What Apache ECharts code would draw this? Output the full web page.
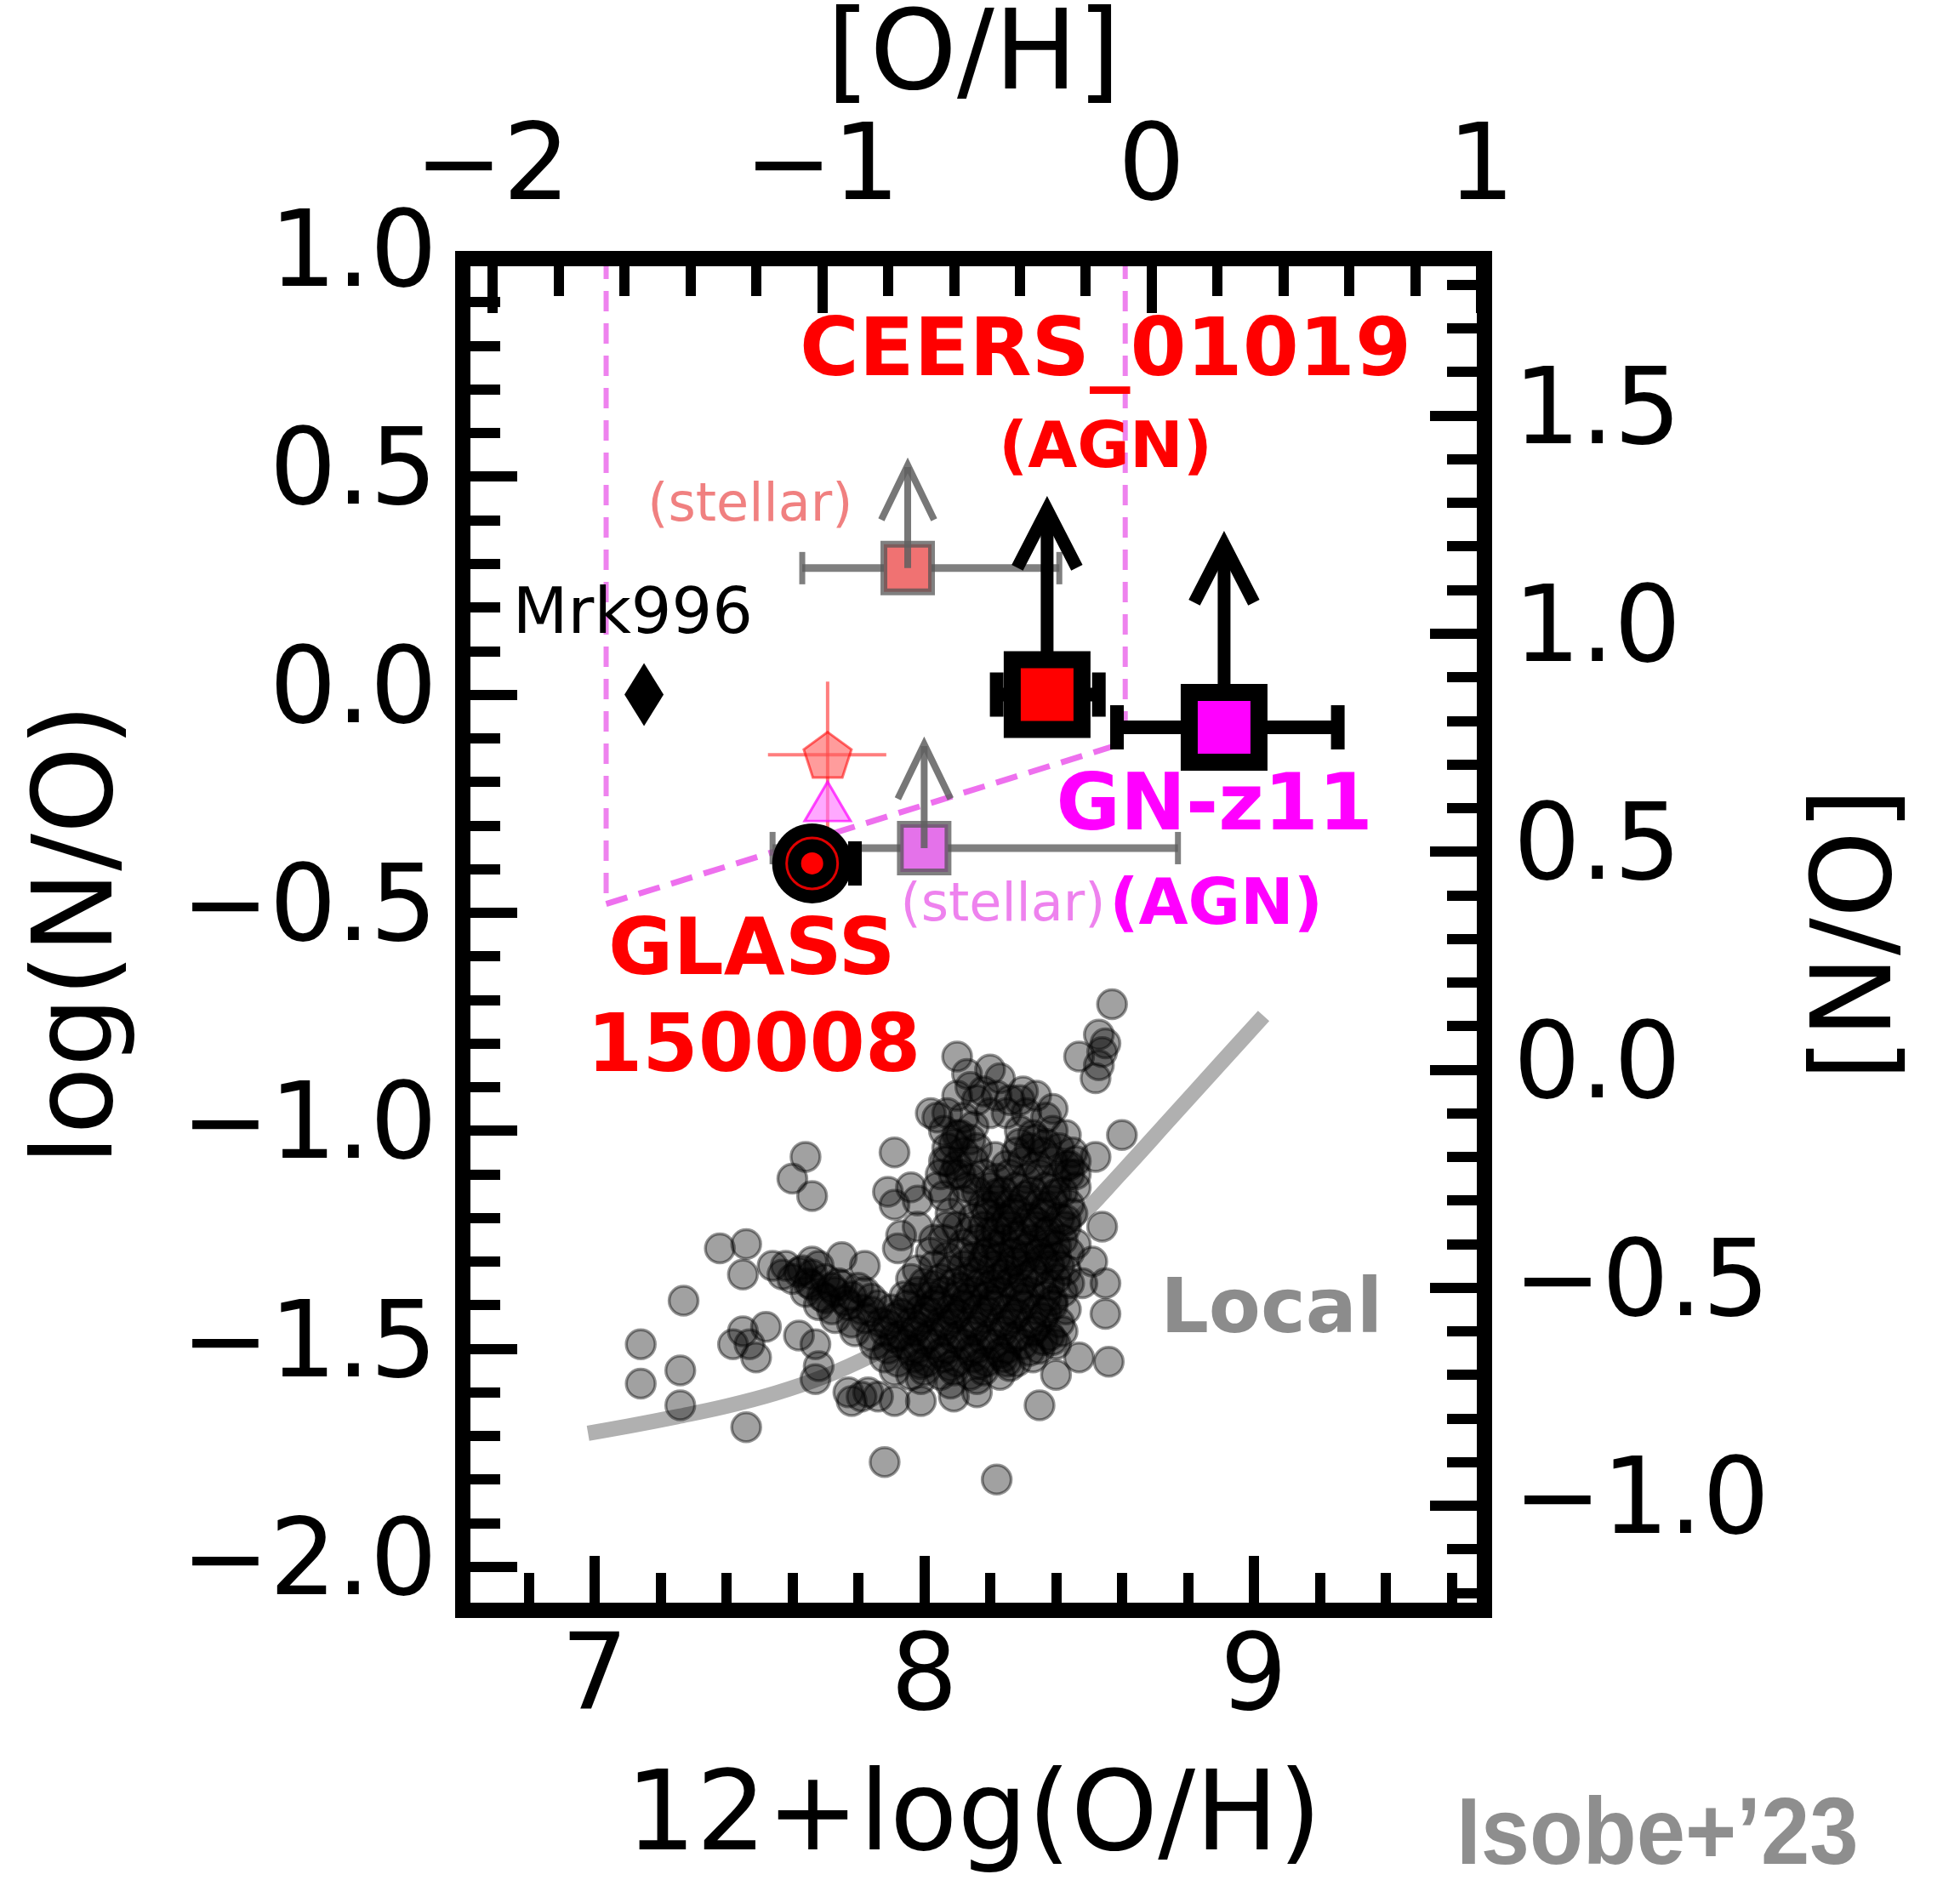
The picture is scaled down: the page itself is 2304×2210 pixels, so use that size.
<!DOCTYPE html>
<html>
<head>
<meta charset="utf-8">
<script src="https://cdn.jsdelivr.net/npm/echarts/dist/echarts.min.js"></script>
<style>
html,body{margin:0;padding:0;background:#ffffff;}
#chart{width:2304px;height:2210px;}
</style>
</head>
<body>
<div id="chart"></div>
<script>
// ---------------- data ----------------
const solarOH = 8.69;      // [O/H] = 12+log(O/H) - 8.69
const solarNO = -0.86;     // [N/O] = log(N/O) + 0.86
const xRange = [6.6, 9.7];
const yRange = [-2.1, 1.0];

const xMajorTicks = [7, 8, 9];
const xMinorTicks = [6.8, 7.2, 7.4, 7.6, 7.8, 8.2, 8.4, 8.6, 8.8, 9.2, 9.4, 9.6];
const yMajorTicks = [-2.0, -1.5, -1.0, -0.5, 0.0, 0.5, 1.0];
const yMinorTicks = [-1.9, -1.8, -1.7, -1.6, -1.4, -1.3, -1.2, -1.1, -0.9, -0.8, -0.7, -0.6,
                     -0.4, -0.3, -0.2, -0.1, 0.1, 0.2, 0.3, 0.4, 0.6, 0.7, 0.8, 0.9];
const ohMajorTicks = [-2, -1, 0, 1];
const ohMinorTicks = [-1.8, -1.6, -1.4, -1.2, -0.8, -0.6, -0.4, -0.2, 0.2, 0.4, 0.6, 0.8];
const noMajorTicks = [-1.0, -0.5, 0.0, 0.5, 1.0, 1.5];
const noMinorTicks = [-1.2, -1.1, -0.9, -0.8, -0.7, -0.6, -0.4, -0.3, -0.2, -0.1, 0.1, 0.2, 0.3, 0.4,
                      0.6, 0.7, 0.8, 0.9, 1.1, 1.2, 1.3, 1.4, 1.6, 1.7, 1.8];

// local galaxies (12+log(O/H), log(N/O))
const localSample = [
  [8.57,-0.71],[8.53,-0.78],[8.55,-0.80],[8.47,-0.83],[8.54,-0.82],[8.53,-0.85],[8.52,-0.88],
  [8.10,-0.83],[8.14,-0.90],[8.23,-0.88],[8.30,-0.91],[8.18,-0.91],[8.26,-0.93],[8.39,-0.95],
  [8.04,-0.97],[8.10,-1.01],[8.09,-1.03],[8.14,-1.02],[8.20,-0.96],[8.25,-0.96],[8.29,-1.03],[8.34,-1.02],[8.37,-1.03],
  [7.91,-1.05],[8.60,-1.01],[8.52,-1.06],[8.07,-1.07],[8.11,-1.10],[8.05,-1.10],[8.13,-1.13],
  [7.89,-1.14],[7.96,-1.13],[7.98,-1.16],[7.91,-1.17],[8.06,-1.15],[8.54,-1.22],
  [7.93,-1.24],[7.98,-1.22],[8.03,-1.25],[8.07,-1.22],[8.46,-1.10],[8.44,-1.08],
  [7.64,-1.06],[7.60,-1.11],[7.66,-1.15],
  [7.38,-1.27],[7.46,-1.26],[7.45,-1.33],[7.54,-1.31],[7.57,-1.33],[7.66,-1.30],[7.75,-1.29],[7.82,-1.31],
  [7.27,-1.39],[7.14,-1.49],[7.26,-1.55],[7.14,-1.58],[7.26,-1.63],
  [7.45,-1.46],[7.52,-1.45],[7.42,-1.49],[7.49,-1.52],[7.47,-1.49],[7.62,-1.47],[7.67,-1.49],[7.67,-1.57],
  [7.46,-1.68],[7.78,-1.62],[7.83,-1.60],[7.81,-1.61],[7.88,-1.76],[8.22,-1.80],
  [8.51,-1.30],[8.55,-1.35],[8.55,-1.42],[8.47,-1.52],[8.56,-1.53],[8.40,-1.56],[8.25,-1.53],[8.35,-1.63],
  [8.16,-1.60],[8.09,-1.61],[7.99,-1.62],[7.91,-1.62],[7.86,-1.61],[8.39,-1.48],[8.48,-1.35],
  [8.02,-0.96],[7.92,-1.27],[8.41,-1.31],[7.77,-1.60],[7.68,-1.54],[8.215,-1.06],
  // dense core
  [8.13,-0.87],[8.20,-0.86],
  [8.10,-0.92],[8.16,-0.93],[8.22,-0.92],[8.29,-0.93],[8.34,-0.92],
  [8.07,-0.96],[8.12,-0.97],[8.31,-0.96],[8.37,-0.97],
  [8.06,-1.00],[8.11,-1.01],[8.15,-0.99],[8.29,-1.00],[8.33,-1.01],[8.39,-1.00],[8.43,-1.01],
  [8.07,-1.04],[8.12,-1.05],[8.16,-1.04],[8.28,-1.05],[8.32,-1.04],[8.36,-1.05],[8.41,-1.04],[8.45,-1.05],
  [8.06,-1.07],[8.10,-1.08],[8.15,-1.07],[8.25,-1.08],[8.30,-1.07],[8.34,-1.08],[8.39,-1.07],[8.43,-1.08],[8.46,-1.07],
  [8.09,-1.10],[8.14,-1.11],[8.18,-1.10],[8.22,-1.11],[8.26,-1.10],[8.31,-1.11],[8.35,-1.10],[8.40,-1.11],[8.44,-1.10],
  [8.04,-1.13],[8.16,-1.14],[8.20,-1.13],[8.24,-1.14],[8.28,-1.13],[8.33,-1.14],[8.37,-1.13],[8.42,-1.14],[8.46,-1.13],
  [8.12,-1.16],[8.18,-1.17],[8.22,-1.16],[8.26,-1.17],[8.30,-1.16],[8.35,-1.17],[8.39,-1.16],[8.44,-1.17],
  [8.08,-1.19],[8.15,-1.20],[8.19,-1.19],[8.23,-1.20],[8.27,-1.19],[8.32,-1.20],[8.36,-1.19],[8.41,-1.20],[8.45,-1.19],
  [8.10,-1.22],[8.14,-1.23],[8.18,-1.22],[8.22,-1.23],[8.26,-1.22],[8.30,-1.23],[8.34,-1.22],[8.38,-1.23],[8.43,-1.22],
  [8.06,-1.25],[8.12,-1.26],[8.16,-1.25],[8.20,-1.26],[8.24,-1.25],[8.28,-1.26],[8.33,-1.25],[8.37,-1.26],[8.42,-1.25],[8.46,-1.26],
  [8.02,-1.28],[8.07,-1.29],[8.11,-1.28],[8.15,-1.29],[8.19,-1.28],[8.23,-1.29],[8.27,-1.28],[8.31,-1.29],[8.35,-1.28],[8.40,-1.29],[8.44,-1.28],
  [7.58,-1.31],[7.63,-1.32],[7.68,-1.31],[7.98,-1.32],[8.03,-1.31],[8.08,-1.32],[8.12,-1.31],[8.17,-1.32],[8.21,-1.31],[8.25,-1.32],[8.29,-1.31],[8.34,-1.32],[8.38,-1.31],[8.43,-1.32],
  [7.60,-1.34],[7.65,-1.35],[7.70,-1.34],[7.74,-1.35],[7.96,-1.34],[8.00,-1.35],[8.05,-1.34],[8.09,-1.35],[8.13,-1.34],[8.17,-1.35],[8.22,-1.34],[8.26,-1.35],[8.30,-1.34],[8.35,-1.35],[8.40,-1.34],[8.44,-1.35],
  [7.64,-1.37],[7.69,-1.38],[7.73,-1.37],[7.78,-1.38],[7.82,-1.37],[7.94,-1.38],[7.98,-1.37],[8.02,-1.38],[8.06,-1.37],[8.10,-1.38],[8.15,-1.37],[8.19,-1.38],[8.23,-1.37],[8.28,-1.38],[8.32,-1.37],[8.37,-1.38],[8.42,-1.37],
  [7.68,-1.40],[7.72,-1.41],[7.77,-1.40],[7.81,-1.41],[7.86,-1.40],[7.90,-1.41],[7.95,-1.40],[7.99,-1.41],[8.03,-1.40],[8.08,-1.41],[8.12,-1.40],[8.16,-1.41],[8.21,-1.40],[8.25,-1.41],[8.30,-1.40],[8.34,-1.41],[8.39,-1.40],[8.43,-1.41],
  [7.73,-1.43],[7.78,-1.44],[7.82,-1.43],[7.87,-1.44],[7.91,-1.43],[7.96,-1.44],[8.00,-1.43],[8.05,-1.44],[8.09,-1.43],[8.14,-1.44],[8.18,-1.43],[8.23,-1.44],[8.27,-1.43],[8.32,-1.44],[8.36,-1.43],[8.41,-1.44],
  [7.79,-1.46],[7.84,-1.47],[7.88,-1.46],[7.93,-1.47],[7.97,-1.46],[8.02,-1.47],[8.06,-1.46],[8.11,-1.47],[8.15,-1.46],[8.20,-1.47],[8.24,-1.46],[8.29,-1.47],[8.33,-1.46],[8.38,-1.47],[8.42,-1.46],
  [7.85,-1.49],[7.89,-1.50],[7.94,-1.49],[7.98,-1.50],[8.03,-1.49],[8.07,-1.50],[8.12,-1.49],[8.16,-1.50],[8.21,-1.49],[8.25,-1.50],[8.30,-1.49],[8.35,-1.50],[8.40,-1.49],
  [7.88,-1.52],[7.92,-1.53],[7.97,-1.52],[8.01,-1.53],[8.06,-1.52],[8.10,-1.53],[8.15,-1.52],[8.19,-1.53],[8.24,-1.52],[8.28,-1.53],[8.33,-1.52],
  [7.91,-1.55],[7.96,-1.56],[8.00,-1.55],[8.05,-1.56],[8.09,-1.55],[8.14,-1.56],[8.18,-1.55],[8.23,-1.56],
  [7.99,-1.57],[8.08,-1.58],[8.16,-1.57],
  // densest parts (extra overlap)
  [7.62,-1.325],[7.66,-1.33],[7.66,-1.355],[7.72,-1.36],[7.70,-1.385],[7.76,-1.39],[7.84,-1.385],
  [7.75,-1.355],[7.80,-1.36],[8.03,-1.355],[8.11,-1.36],[8.20,-1.355],[8.29,-1.36],[8.38,-1.355],
  [7.96,-1.385],[8.04,-1.39],[8.13,-1.385],[8.21,-1.39],[8.30,-1.385],[8.39,-1.39],
  [7.84,-1.415],[7.93,-1.42],[8.01,-1.415],[8.10,-1.42],[8.19,-1.415],[8.28,-1.42],[8.37,-1.415],
  [7.89,-1.445],[7.98,-1.45],[8.07,-1.445],[8.16,-1.45],[8.25,-1.445],[8.34,-1.45],
  [7.91,-1.475],[8.00,-1.48],[8.09,-1.475],[8.18,-1.48],[8.27,-1.475],[8.36,-1.48],
  [7.96,-1.505],[8.05,-1.51],[8.14,-1.505],[8.23,-1.51],[8.32,-1.505],
  [7.99,-1.535],[8.08,-1.54],[8.17,-1.535],[8.26,-1.54],
  [8.22,-1.145],[8.31,-1.15],[8.40,-1.145],[8.20,-1.175],[8.28,-1.18],[8.37,-1.175],
  [8.25,-1.205],[8.34,-1.21],[8.43,-1.205],[8.20,-1.235],[8.28,-1.24],[8.37,-1.235],
  [8.22,-1.265],[8.31,-1.27],[8.40,-1.265],[8.18,-1.295],[8.27,-1.30],[8.36,-1.295],
  [8.15,-1.325],[8.24,-1.33],[8.33,-1.325]
];

// local relation (thick gray curve)
const localCurve = [[6.98,-1.694],[7.10,-1.678],[7.25,-1.656],[7.40,-1.632],[7.55,-1.602],[7.70,-1.563],
  [7.85,-1.512],[8.00,-1.452],[8.15,-1.383],[8.30,-1.305],[8.45,-1.214],[8.60,-1.095],[8.75,-0.970],
  [8.90,-0.845],[9.03,-0.737]];

// magenta dashed region
const regionLeftEdge = [[7.035, 1.0], [7.035, -0.48]];
const regionDiagonal = [[7.035, -0.48], [8.61, -0.11]];
const regionRightEdge = [[8.61, 1.0], [8.61, -0.11]];

// objects: [x, y]
const mrk996Point = [7.15, 0.0];
const ceersStellarPoint = [7.95, 0.29];
const ceersStellarXErr = [7.63, 8.41];
const ceersStellarArrowTip = 0.54;
const gnStellarPoint = [8.00, -0.352];
const gnStellarXErr = [7.54, 8.77];
const gnStellarArrowTip = -0.10;
const ceersAgnPoint = [8.373, 0.0];
const ceersAgnXErr = [8.22, 8.53];
const ceersAgnArrowTip = 0.45;
const gnAgnPoint = [8.91, -0.075];
const gnAgnXErr = [8.585, 9.255];
const gnAgnArrowTip = 0.37;
const glassPoint = [7.66, -0.387];
const glassXErr = [7.58, 7.79];
const pentagonPoint = [7.707, -0.138];
const pentagonXErr = [7.526, 7.885];
const pentagonYErr = [-0.31, 0.03];
const trianglePoint = [7.707, -0.245];

// annotation texts: [x, y]
const labelCeers = [8.55, 0.78];
const labelCeersAgn = [8.55, 0.56];
const labelCeersStellar = [7.472, 0.431];
const labelMrk = [7.116, 0.179];
const labelGn = [8.881, -0.263];
const labelGnAgn = [8.886, -0.487];
const labelGnStellar = [8.239, -0.487];
const labelGlass = [7.477, -0.594];
const labelGlassId = [7.483, -0.815];
const labelLocal = [9.054, -1.417];

// ---------------- chart ----------------
const FONT = '"DejaVu Sans", Verdana, sans-serif';
const fmt1 = v => (v < -1e-9 ? '\u2212' : '') + Math.abs(v).toFixed(1);
const fmt0 = v => (v < -1e-9 ? '\u2212' : '') + Math.abs(Math.round(v));

function axisDef(o) {
  const major = o.major;
  return {
    type: 'value', position: o.position, min: o.min, max: o.max,
    splitLine: { show: false },
    axisLine: { show: !!major, onZero: false, lineStyle: { color: '#000', width: 18, cap: 'square' } },
    axisTick: { show: true, inside: true, length: major ? 64 : 44, customValues: o.ticks,
                lineStyle: { color: '#000', width: 12 } },
    axisLabel: major ? { show: true, customValues: o.ticks, margin: o.margin, fontSize: 124, fontFamily: FONT,
                         color: '#000', formatter: o.fmt, showMinLabel: true, showMaxLabel: true }
                     : { show: false },
    name: o.name || '', nameLocation: 'middle', nameGap: o.nameGap || 0, nameRotate: o.nameRotate,
    nameTextStyle: { fontSize: 130, fontFamily: FONT, color: '#000' },
    z: 10
  };
}

const xAxes = [
  axisDef({ position: 'bottom', min: xRange[0], max: xRange[1], major: true, ticks: xMajorTicks, margin: 22,
            fmt: fmt0, name: '12+log(O/H)', nameGap: 182 }),
  axisDef({ position: 'bottom', min: xRange[0], max: xRange[1], major: false, ticks: xMinorTicks }),
  axisDef({ position: 'top', min: xRange[0] - solarOH, max: xRange[1] - solarOH, major: true, ticks: ohMajorTicks,
            margin: 40, fmt: fmt0, name: '[O/H]', nameGap: 162 }),
  axisDef({ position: 'top', min: xRange[0] - solarOH, max: xRange[1] - solarOH, major: false, ticks: ohMinorTicks })
];
const yAxes = [
  axisDef({ position: 'left', min: yRange[0], max: yRange[1], major: true, ticks: yMajorTicks, margin: 30,
            fmt: fmt1, name: 'log(N/O)', nameGap: 382 }),
  axisDef({ position: 'left', min: yRange[0], max: yRange[1], major: false, ticks: yMinorTicks }),
  axisDef({ position: 'right', min: yRange[0] - solarNO, max: yRange[1] - solarNO, major: true, ticks: noMajorTicks,
            margin: 34, fmt: fmt1, name: '[N/O]', nameGap: 378, nameRotate: 90 }),
  axisDef({ position: 'right', min: yRange[0] - solarNO, max: yRange[1] - solarNO, major: false, ticks: noMinorTicks })
];

function errBarSeries(items, color, width, capH, capW, z) {
  return {
    type: 'custom', z: z, silent: true, xAxisIndex: 0, yAxisIndex: 0,
    encode: { x: 0, y: 1 },
    data: items,
    renderItem: (params, api) => {
      const y = api.value(1);
      const a = api.coord([api.value(2), y]);
      const b = api.coord([api.value(3), y]);
      const st = { stroke: color, lineWidth: width };
      const cs = { stroke: color, lineWidth: capW };
      return { type: 'group', children: [
        { type: 'line', shape: { x1: a[0], y1: a[1], x2: b[0], y2: b[1] }, style: st },
        { type: 'line', shape: { x1: a[0], y1: a[1] - capH / 2, x2: a[0], y2: a[1] + capH / 2 }, style: cs },
        { type: 'line', shape: { x1: b[0], y1: b[1] - capH / 2, x2: b[0], y2: b[1] + capH / 2 }, style: cs }
      ]};
    }
  };
}

function crossErrSeries(items, color, width, z) {
  return {
    type: 'custom', z: z, silent: true, xAxisIndex: 0, yAxisIndex: 0,
    encode: { x: 0, y: 1 },
    data: items,
    renderItem: (params, api) => {
      const x = api.value(0), y = api.value(1);
      const a = api.coord([api.value(2), y]), b = api.coord([api.value(3), y]);
      const c = api.coord([x, api.value(4)]), d = api.coord([x, api.value(5)]);
      const st = { stroke: color, lineWidth: width };
      return { type: 'group', children: [
        { type: 'line', shape: { x1: a[0], y1: a[1], x2: b[0], y2: b[1] }, style: st },
        { type: 'line', shape: { x1: c[0], y1: c[1], x2: d[0], y2: d[1] }, style: st }
      ]};
    }
  };
}

function arrowSeries(items, color, width, headHalf, headLen, z) {
  return {
    type: 'custom', z: z, silent: true, xAxisIndex: 0, yAxisIndex: 0,
    encode: { x: 0, y: 1 },
    data: items,
    renderItem: (params, api) => {
      const x = api.value(0);
      const base = api.coord([x, api.value(1)]);
      const tip = api.coord([x, api.value(2)]);
      const t = [tip[0], tip[1] + width * 0.9];
      const st = { stroke: color, lineWidth: width, fill: null, lineJoin: 'miter', miterLimit: 10 };
      return { type: 'group', children: [
        { type: 'line', shape: { x1: base[0], y1: base[1], x2: t[0], y2: t[1] + 2 }, style: { stroke: color, lineWidth: width } },
        { type: 'polyline', shape: { points: [[t[0] - headHalf, t[1] + headLen], [t[0], t[1]], [t[0] + headHalf, t[1] + headLen]] }, style: st }
      ]};
    }
  };
}

function textSeries(items, z) {
  return {
    type: 'scatter', z: z, silent: true, symbolSize: 1, xAxisIndex: 0, yAxisIndex: 0,
    itemStyle: { color: 'rgba(0,0,0,0)', opacity: 1 },
    data: items.map(it => ({
      value: it.pos,
      label: { show: true, position: 'inside', formatter: it.text, fontSize: it.size, fontWeight: it.weight,
               fontFamily: FONT, color: it.color, align: 'center', verticalAlign: 'middle', opacity: 1 }
    }))
  };
}

function markerSeries(points, symbol, size, style, z, extra) {
  return Object.assign({
    type: 'scatter', z: z, silent: true, data: points, symbol: symbol, symbolSize: size,
    itemStyle: Object.assign({ opacity: 1 }, style)
  }, extra || {});
}

const series = [
  { type: 'line', z: 1, silent: true, data: localCurve, symbol: 'none', smooth: 0.4,
    lineStyle: { color: '#b0b0b0', width: 18, cap: 'butt' } },
  markerSeries(localSample, 'circle', 34,
    { color: 'rgba(0,0,0,0.37)', borderColor: 'rgba(0,0,0,0.42)', borderWidth: 3.5 }, 2),
  { type: 'line', z: 3, silent: true, data: regionLeftEdge, symbol: 'none',
    lineStyle: { color: '#ee82ee', width: 6, type: [24, 14] } },
  { type: 'line', z: 3, silent: true, data: regionRightEdge, symbol: 'none',
    lineStyle: { color: '#ee82ee', width: 6, type: [24, 14] } },
  { type: 'line', z: 3, silent: true, data: regionDiagonal, symbol: 'none',
    lineStyle: { color: '#ee70ee', width: 7, type: [26, 14] } },
  errBarSeries([[...ceersStellarPoint, ...ceersStellarXErr], [...gnStellarPoint, ...gnStellarXErr]],
               'rgba(95,95,95,0.8)', 9, 38, 7, 4),
  crossErrSeries([[...pentagonPoint, ...pentagonXErr, ...pentagonYErr]], 'rgba(255,40,40,0.6)', 4, 4),
  markerSeries([trianglePoint], 'triangle', [54, 46],
    { color: 'rgba(255,110,255,0.6)', borderColor: 'rgba(255,0,255,0.7)', borderWidth: 3 }, 5),
  markerSeries([pentagonPoint], 'path://M0,-1 L0.951,-0.309 L0.588,0.809 L-0.588,0.809 L-0.951,-0.309 Z', 56,
    { color: 'rgba(255,90,90,0.6)', borderColor: 'rgba(255,0,0,0.55)', borderWidth: 3 }, 5, { symbolKeepAspect: true }),
  markerSeries([ceersStellarPoint], 'rect', 56,
    { color: '#f07272', borderColor: 'rgba(85,85,85,0.75)', borderWidth: 8 }, 5),
  markerSeries([gnStellarPoint], 'rect', 56,
    { color: '#e472ea', borderColor: 'rgba(85,85,85,0.75)', borderWidth: 8 }, 5),
  arrowSeries([[...ceersStellarPoint, ceersStellarArrowTip], [...gnStellarPoint, gnStellarArrowTip]],
              'rgba(95,95,95,0.85)', 8, 31, 64, 6),
  errBarSeries([[...gnAgnPoint, ...gnAgnXErr], [...ceersAgnPoint, ...ceersAgnXErr], [...glassPoint, ...glassXErr]],
               '#000', 16, 52, 16, 7),
  arrowSeries([[...ceersAgnPoint, ceersAgnArrowTip], [...gnAgnPoint, gnAgnArrowTip]], '#000', 15, 35, 68, 7),
  markerSeries([ceersAgnPoint], 'rect', 82, { color: '#ff0000', borderColor: '#000', borderWidth: 20 }, 8),
  markerSeries([gnAgnPoint], 'rect', 82, { color: '#ff00ff', borderColor: '#000', borderWidth: 20 }, 8),
  markerSeries([glassPoint], 'circle', 94, { color: '#000' }, 9),
  markerSeries([glassPoint], 'circle', 60, { color: 'rgba(0,0,0,0)', borderColor: '#e00000', borderWidth: 3 }, 9),
  markerSeries([glassPoint], 'circle', 26, { color: '#ff0000' }, 9),
  markerSeries([mrk996Point], 'diamond', [46, 74], { color: '#000' }, 9),
  textSeries([
    { pos: labelCeers, text: 'CEERS_01019', size: 95, weight: 'bold', color: '#ff0000' },
    { pos: labelCeersAgn, text: '(AGN)', size: 75, weight: 'bold', color: '#ff0000' },
    { pos: labelCeersStellar, text: '(stellar)', size: 62, weight: 'normal', color: '#f08080' },
    { pos: labelMrk, text: 'Mrk996', size: 75, weight: 'normal', color: '#000000' },
    { pos: labelGn, text: 'GN-z11', size: 92, weight: 'bold', color: '#ff00ff' },
    { pos: labelGnAgn, text: '(AGN)', size: 75, weight: 'bold', color: '#ff00ff' },
    { pos: labelGnStellar, text: '(stellar)', size: 62, weight: 'normal', color: '#ee82ee' },
    { pos: labelGlass, text: 'GLASS', size: 93, weight: 'bold', color: '#ff0000' },
    { pos: labelGlassId, text: '150008', size: 94, weight: 'bold', color: '#ff0000' },
    { pos: labelLocal, text: 'Local', size: 89, weight: 'bold', color: '#8c8c8c' }
  ], 12)
];

const chart = echarts.init(document.getElementById('chart'), null, { renderer: 'canvas' });
chart.setOption({
  backgroundColor: '#ffffff',
  animation: false,
  grid: { left: 544, right: 559, top: 294, bottom: 305, containLabel: false },
  xAxis: xAxes,
  yAxis: yAxes,
  series: series,
  graphic: [{
    type: 'text', left: 1712, top: 2104, z: 20, scaleX: 0.92,
    style: { text: 'Isobe+\u201923', font: 'bold 112px "Liberation Sans", Arial, sans-serif', fill: '#8e8e8e' }
  }]
});
</script>
</body>
</html>
